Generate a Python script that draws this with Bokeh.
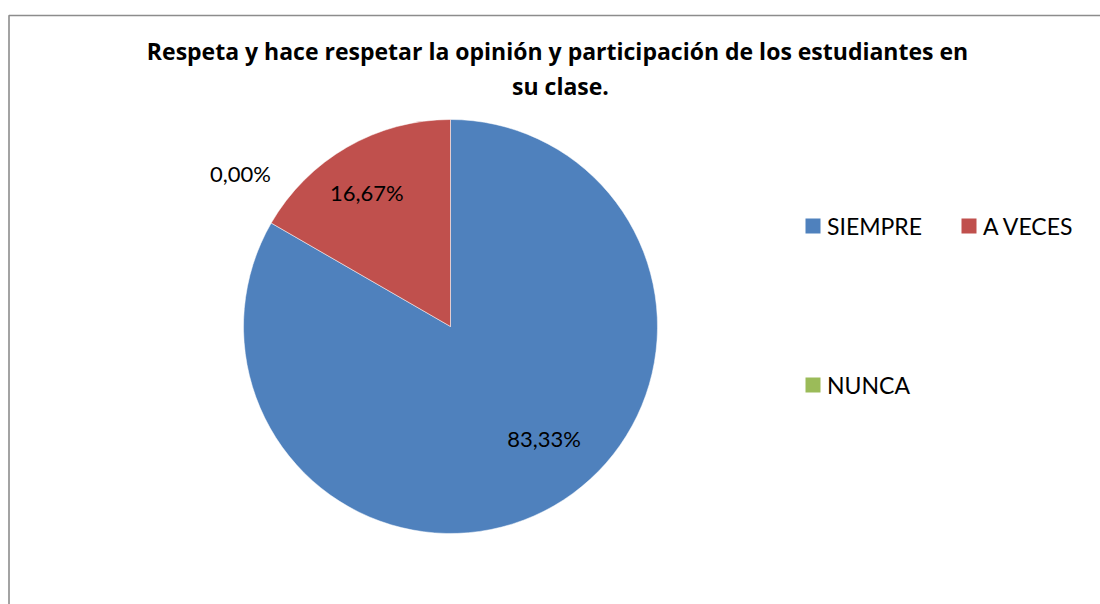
import math
from bokeh.plotting import figure
from bokeh.models import Range1d
from bokeh.core.properties import value
from bokeh.embed import file_html
from bokeh.resources import INLINE

# ---- data ----
categories = ["SIEMPRE", "A VECES", "NUNCA"]
shares = [83.33, 16.67, 0.00]
labels = ["83,33%", "16,67%", "0,00%"]
colors = ["#4F81BD", "#C0504D", "#9BBB59"]
title_lines = ["Respeta y hace respetar  la opinión y participación de los estudiantes en",
               "su clase."]

W, H = 1100, 604
p = figure(width=W, height=H, x_range=Range1d(0, W), y_range=Range1d(0, H),
           output_backend="svg", toolbar_location=None, min_border=0)
p.axis.visible = False
p.grid.visible = False
p.outline_line_color = None
p.background_fill_color = "white"
p.border_fill_color = "white"

# chart area border (left and top visible)
p.line([8.5, 8.5, W + 5], [-5, 589, 589], line_color="#8c8c8c", line_width=1.6)

cx, cy, R = 450, 278, 207
total = sum(shares)
starts, ends = [], []
cum = 0.0
for s in shares:
    a0 = math.pi / 2 - cum / total * 2 * math.pi
    cum += s
    a1 = math.pi / 2 - cum / total * 2 * math.pi
    starts.append(a0)
    ends.append(a1)

for s, a0, a1, c in zip(shares, starts, ends, colors):
    if s > 0:
        p.wedge(x=cx, y=cy, radius=R, start_angle=a0, end_angle=a1, direction="clock",
                fill_color=c, line_color="white", line_width=0.5)

# data labels (zero slice label sits at the SIEMPRE / A VECES boundary, outside)
label_angles = [(a0 + a1) / 2 if s > 0 else starts[1]
                for s, a0, a1 in zip(shares, starts, ends)]
rfac = [0.71, 0.75, 1.25]
xoff = [20, -6, 14]
yoff = [-15, 0, -24]
for lab, m, rf, xo, yo in zip(labels, label_angles, rfac, xoff, yoff):
    p.text(x=[cx + R * rf * math.cos(m)], y=[cy + R * rf * math.sin(m)], text=[lab],
           x_offset=xo, y_offset=yo,
           text_font=value("Lato"), text_font_size="22px", text_color="black",
           text_align="center", text_baseline="middle")

# title
p.text(x=[560, 560], y=[554, 519], text=title_lines,
       text_font=value("Open Sans"), text_font_style="bold", text_font_size="23px",
       text_color="black", text_align="center", text_baseline="alphabetic")

# legend (manual, Excel-like layout)
leg_pos = [(812.5, 225.5), (968.5, 225.5), (812.5, 384.5)]
for (lx, ly), c, name in zip(leg_pos, colors, categories):
    y = H - ly
    p.rect(x=[lx], y=[y], width=15, height=15, fill_color=c, line_color=None)
    p.text(x=[lx + 14], y=[y], text=[name], text_font=value("Lato"), text_font_size="23px",
           text_color="black", text_align="left", text_baseline="middle")

open("out.html", "w").write(file_html(p, INLINE))
